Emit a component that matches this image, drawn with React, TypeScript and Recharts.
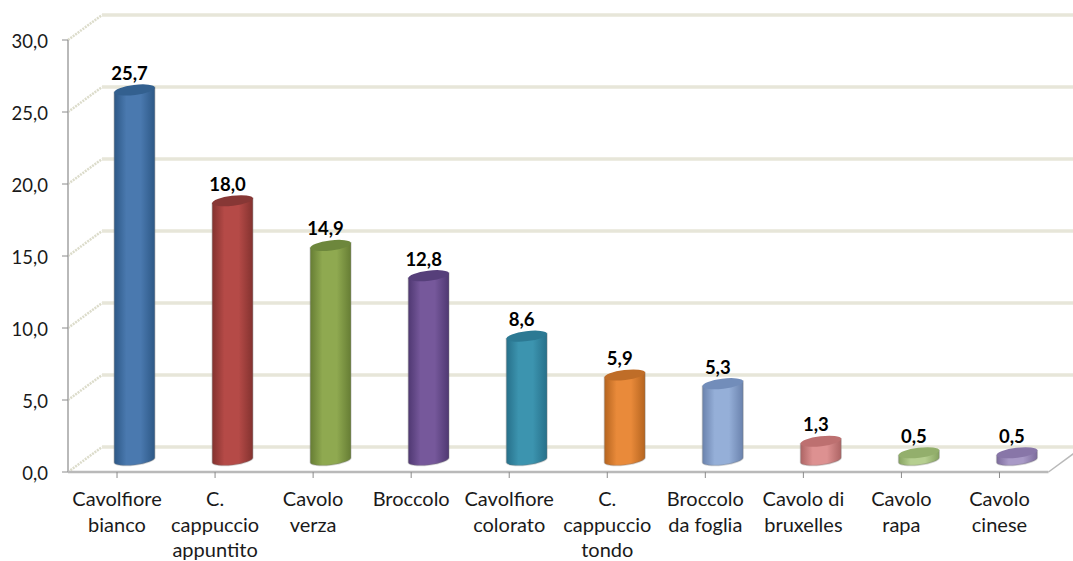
import React from "react";
import {
  BarChart,
  Bar,
  XAxis,
  YAxis,
  CartesianGrid,
  LabelList,
} from "recharts";

const categories = [
  "Cavolfiore\nbianco",
  "C.\ncappuccio\nappuntito",
  "Cavolo\nverza",
  "Broccolo",
  "Cavolfiore\ncolorato",
  "C.\ncappuccio\ntondo",
  "Broccolo\nda foglia",
  "Cavolo di\nbruxelles",
  "Cavolo\nrapa",
  "Cavolo\ncinese",
];
const values = [25.7, 18.0, 14.9, 12.8, 8.6, 5.9, 5.3, 1.3, 0.5, 0.5];
const yTicks = [0, 5, 10, 15, 20, 25, 30];

const data = categories.map((name, i) => ({ name, value: values[i] }));

// edge / centre / cap shades of each cylinder
const EDGE = ["#2d5886", "#83322f", "#667d34", "#4f3872", "#27708a", "#b5641f", "#6a82ad", "#ad6464", "#86a360", "#7c6b9c"];
const MID = ["#4a79af", "#b54a47", "#8fa950", "#76589b", "#3c94af", "#e98a3a", "#95afd8", "#dd9191", "#b6cf90", "#a99ac7"];
const CAP = ["#33608f", "#873735", "#6d873c", "#563f7a", "#2c7993", "#bf6d28", "#728dba", "#bd7070", "#93af6c", "#8876a8"];

// shift from the front plane to the middle of the 3D floor
const DEPTH_X = 17;
const DEPTH_Y = 12;
const BACK_X = 34;
const BACK_Y = 25;
const TILT = 7;
const CAP_RY = 5;

const FONT = "Lato, 'Open Sans', sans-serif";
const GRID_COLOR = "#e7e6d9";
const AXIS_COLOR = "#b9b9b9";

const fmt = (v: number) => v.toFixed(1).replace(".", ",");

const Cylinder = (props: any) => {
  const { x, y, width, height, index } = props;
  const cx = x + width / 2 + DEPTH_X;
  const top = y - DEPTH_Y;
  const bottom = y + height - DEPTH_Y;
  const rx = width / 2;
  const rad = (TILT * Math.PI) / 180;
  const dx = rx * Math.cos(rad);
  const dy = rx * Math.sin(rad);
  const body = `M${cx - dx},${top + dy} L${cx - dx},${bottom + dy} A${rx},${CAP_RY} ${-TILT} 0 0 ${cx + dx},${bottom - dy} L${cx + dx},${top - dy} Z`;
  return (
    <g>
      <path d={body} fill={`url(#cyl-${index})`} stroke="#777" strokeOpacity={0.3} strokeWidth={1.5} />
      <ellipse
        cx={cx}
        cy={top}
        rx={rx}
        ry={CAP_RY}
        fill={CAP[index]}
        transform={`rotate(${-TILT} ${cx} ${top})`}
      />
    </g>
  );
};

const ValueLabel = (props: any) => {
  const { x, y, width, value } = props;
  return (
    <text
      x={x + width / 2 + DEPTH_X - 5}
      y={y - DEPTH_Y - 10}
      textAnchor="middle"
      fontFamily={FONT}
      fontSize={18.5}
      fontWeight={700}
      fill="#000"
    >
      {fmt(value)}
    </text>
  );
};

const CategoryTick = (props: any) => {
  const { x, y, payload } = props;
  return (
    <text x={x} y={y} textAnchor="middle" fontFamily={FONT} fontSize={20} fill="#1a1a1a">
      {String(payload.value)
        .split("\n")
        .map((line, i) => (
          <tspan key={i} x={x} y={y + 26 + i * 25.5}>
            {line}
          </tspan>
        ))}
    </text>
  );
};

// wall line plus the slanted piece running back from the value axis
const WallLine = (props: any) => {
  const { x1, x2, y1 } = props;
  const isFloor = y1 > 460;
  return (
    <g>
      <line x1={x1} y1={y1} x2={x1 + BACK_X} y2={y1 - BACK_Y} stroke="#dcdccb" strokeWidth={2.5} strokeDasharray="2 1" />
      <line x1={x1 + BACK_X} y1={y1 - BACK_Y} x2={x2 + BACK_X} y2={y1 - BACK_Y} stroke={GRID_COLOR} strokeWidth={3.5} />
      {isFloor && <line x1={x2} y1={y1} x2={x2 + BACK_X} y2={y1 - BACK_Y} stroke={AXIS_COLOR} strokeWidth={1.5} />}
    </g>
  );
};

export default function App() {
  return (
    <div style={{ position: "absolute", left: 0, top: 0, background: "#fff" }}>
      <BarChart
        width={1073}
        height={561}
        data={data}
        barSize={41}
        margin={{ top: 40, right: 24.5, bottom: 0, left: 0 }}
      >
        <defs>
          {MID.map((c, i) => (
            <linearGradient key={i} id={`cyl-${i}`} x1="0" y1="0" x2="1" y2="0">
              <stop offset="0%" stopColor={EDGE[i]} />
              <stop offset="30%" stopColor={c} />
              <stop offset="65%" stopColor={c} />
              <stop offset="100%" stopColor={EDGE[i]} />
            </linearGradient>
          ))}
        </defs>
        <CartesianGrid vertical={false} horizontal={WallLine} syncWithTicks />
        <XAxis
          dataKey="name"
          height={89}
          interval={0}
          tick={CategoryTick}
          tickSize={6}
          axisLine={{ stroke: AXIS_COLOR, strokeWidth: 2.5 }}
          tickLine={{ stroke: "#8c8c8c" }}
        />
        <YAxis
          width={68}
          domain={[0, 30]}
          ticks={yTicks}
          interval={0}
          tickFormatter={fmt}
          tickSize={6}
          tickMargin={14}
          axisLine={{ stroke: AXIS_COLOR, strokeWidth: 2 }}
          tickLine={{ stroke: "#8c8c8c" }}
          tick={{ fontFamily: FONT, fontSize: 18.5, fill: "#1a1a1a", dy: 1 }}
        />
        <Bar dataKey="value" shape={Cylinder} isAnimationActive={false}>
          <LabelList dataKey="value" content={ValueLabel} />
        </Bar>
      </BarChart>
    </div>
  );
}
